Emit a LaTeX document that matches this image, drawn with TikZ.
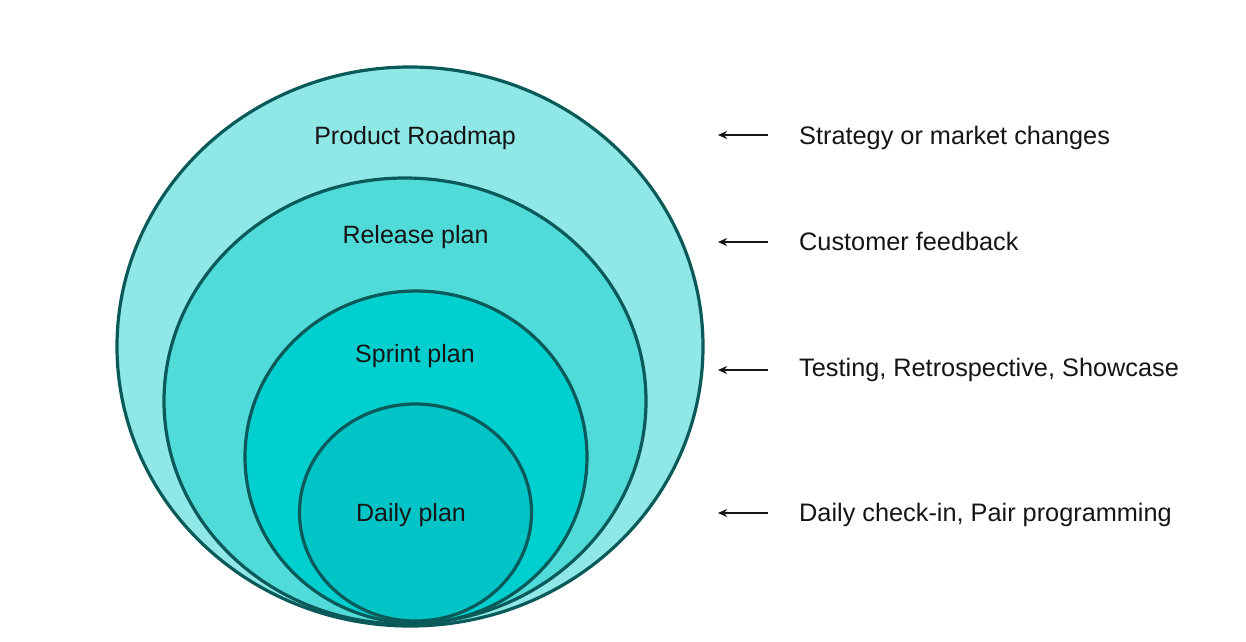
\documentclass[tikz,border=0pt]{standalone}
\usepackage{fontspec}
\setmainfont{Liberation Sans}
\usetikzlibrary{shapes.geometric,arrows.meta}
\definecolor{ringA}{HTML}{8FE8E6}
\definecolor{ringB}{HTML}{50DAD8}
\definecolor{ringC}{HTML}{00CFD0}
\definecolor{ringD}{HTML}{00C4C6}
\definecolor{rim}{HTML}{0B5A5A}
\definecolor{ink}{HTML}{151515}
\tikzset{
  ring/.style={ellipse, draw=rim, line width=3.2pt, inner sep=0pt, outer sep=0pt},
  lbl/.style={anchor=base, font=\fontsize{25}{30}\selectfont, text=ink, inner sep=0pt},
  side/.style={anchor=base west, font=\fontsize{25.3}{30}\selectfont, text=ink, inner sep=0pt},
  arr/.style={-{Stealth[length=9pt,width=8pt]}, line width=1.5pt, draw=ink}
}
\begin{document}
\begin{tikzpicture}[x=1pt,y=-1pt]
\useasboundingbox[fill=white] (0,0) rectangle (1246,641);
% rings
\node[ring, fill=ringA, minimum width=586pt, minimum height=559pt] (roadmap) at (410,346.5) {};
\node[ring, fill=ringB, minimum width=482pt, minimum height=446pt] (release) at (405,401) {};
\node[ring, fill=ringC, minimum width=342pt, minimum height=332pt] (sprint) at (416,457) {};
\node[ring, fill=ringD, minimum width=232pt, minimum height=217pt] (daily) at (415.5,512.5) {};
% ring labels
\node[lbl] (troad) at (415,144) {Product Roadmap};
\node[lbl] (trel) at (415.5,243) {Release plan};
\node[lbl] (tspr) at (415,362) {Sprint plan};
\node[lbl] (tday) at (411,521) {Daily plan};
% side labels
\node[side] (s1) at (799,144) {Strategy or market changes};
\node[side] (s2) at (799,250.5) {Customer feedback};
\node[side] (s3) at (799,376.5) {Testing, Retrospective, Showcase};
\node[side] (s4) at (799,521.5) {Daily check-in, Pair programming};
% arrows
\coordinate (a1s) at (768,135); \coordinate (a1e) at (718,135);
\coordinate (a2s) at (768,242); \coordinate (a2e) at (718,242);
\coordinate (a3s) at (768,370); \coordinate (a3e) at (718,370);
\coordinate (a4s) at (768,513); \coordinate (a4e) at (718,513);
\draw[arr] (a1s) -- (a1e);
\draw[arr] (a2s) -- (a2e);
\draw[arr] (a3s) -- (a3e);
\draw[arr] (a4s) -- (a4e);
\end{tikzpicture}
\end{document}
